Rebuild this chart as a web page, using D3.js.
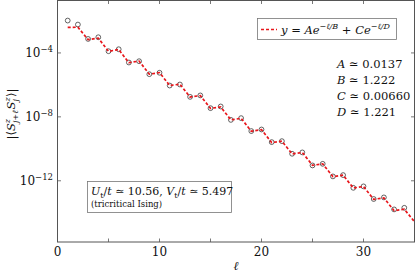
<!DOCTYPE html>
<html>
<head>
<meta charset="utf-8">
<script src="https://cdn.jsdelivr.net/npm/d3@7"></script>
<style>
  body { margin: 0; background: #fff; }
  svg text { fill: #111; }
  .frame { fill: none; stroke: #555; stroke-width: 1; }
  .tick { stroke: #555; stroke-width: 0.8; }
</style>
</head>
<body>
<div id="chart"></div>
<script>
// ------------------------------------------------ DATA ------------------------------------------------
// distance l and measured correlation |<S_j+l S_j>|
var DIST = [1,2,3,4,5,6,7,8,9,10,11,12,13,14,15,16,17,18,19,20,21,22,23,24,25,26,27,28,29,30,31,32,33,34];
var CORR = [1.06e-2,5.96e-3,7.50e-4,9.57e-4,1.28e-4,1.70e-4,2.51e-5,3.03e-5,4.67e-6,5.75e-6,
            9.12e-7,1.06e-6,1.78e-7,2.19e-7,3.50e-8,4.47e-8,6.46e-9,8.32e-9,1.29e-9,1.62e-9,
            2.63e-10,3.02e-10,4.90e-11,5.96e-11,9.12e-12,1.15e-11,1.88e-12,2.27e-12,3.63e-13,4.47e-13,
            7.24e-14,9.12e-14,1.62e-14,2.04e-14];
// fitted curve, evaluated at integer l
var FIT_DIST = [1,2,3,4,5,6,7,8,9,10,11,12,13,14,15,16,17,18,19,20,21,22,23,24,25,26,27,28,29,30,31,32,33,34,35];
var FIT_VAL = [3.98e-3,4.07e-3,6.76e-4,8.51e-4,1.26e-4,1.62e-4,2.45e-5,3.09e-5,4.68e-6,5.89e-6,
               9.12e-7,1.10e-6,1.74e-7,2.14e-7,3.39e-8,4.17e-8,6.46e-9,8.13e-9,1.26e-9,1.58e-9,
               2.45e-10,3.02e-10,4.79e-11,5.89e-11,9.33e-12,1.15e-11,1.82e-12,2.24e-12,3.55e-13,4.37e-13,
               6.92e-14,8.51e-14,1.35e-14,1.66e-14,2.75e-15];

var X_TICKS = [0,5,10,15,20,25,30,35];
var X_LABELS = [0,10,20,30];
var Y_TICKS = [-4,-8,-12];

var FIT_PARAMS = [["A","0.0137"],["B","1.222"],["C","0.00660"],["D","1.221"]];

// ------------------------------------------------ LAYOUT ------------------------------------------------
var W = 415, H = 273;
var PLOT_LEFT = 57.5, PLOT_RIGHT = 414.5, PLOT_TOP = 0.5, PLOT_BOTTOM = 242;
var TICK_LEN = 3.5;
var FONT = "'DejaVu Serif', serif";

var svg = d3.select("#chart").append("svg")
  .attr("width",W).attr("height",H)
  .attr("font-family",FONT).style("font-family",FONT);

var x = d3.scaleLinear().domain([0,35]).range([PLOT_LEFT,PLOT_RIGHT]);
var y = d3.scaleLog().domain([Math.pow(10,-15.83),Math.pow(10,-0.72)]).range([PLOT_BOTTOM,PLOT_TOP]);

svg.append("clipPath").attr("id","plotclip")
  .append("rect").attr("x",PLOT_LEFT).attr("y",PLOT_TOP)
  .attr("width",PLOT_RIGHT-PLOT_LEFT).attr("height",PLOT_BOTTOM-PLOT_TOP);

drawAxes();
drawData();
drawLegend();
drawAnnotations();

// ------------------------------------------------ AXES ------------------------------------------------
function drawAxes(){
  var g = svg.append("g").attr("id","axes");

  // x ticks, bottom + top, pointing inward
  X_TICKS.forEach(function(t){
    _drawLine(g,x(t),PLOT_BOTTOM,x(t),PLOT_BOTTOM-TICK_LEN);
    _drawLine(g,x(t),PLOT_TOP,x(t),PLOT_TOP+TICK_LEN);
  });
  X_LABELS.forEach(function(t){
    _text(g,t,x(t),256,"12px").style("text-anchor","middle");
  });

  // y ticks, left + right
  Y_TICKS.forEach(function(e){
    var _y = y(Math.pow(10,e));
    _drawLine(g,PLOT_LEFT,_y,PLOT_LEFT+TICK_LEN,_y);
    _drawLine(g,PLOT_RIGHT,_y,PLOT_RIGHT-TICK_LEN,_y);
    var t = _text(g,"",53,_y+4.5,"12px").style("text-anchor","end");
    t.append("tspan").text("10");
    t.append("tspan").text("\u2212"+(-e)).attr("dy",-5.5).style("font-size","8.5px");
  });

  g.append("rect").attr("class","frame")
    .attr("x",PLOT_LEFT).attr("y",PLOT_TOP)
    .attr("width",PLOT_RIGHT-PLOT_LEFT).attr("height",PLOT_BOTTOM-PLOT_TOP);

  // axis labels
  _text(g,"\u2113",236,270,"12px").style("text-anchor","middle").style("font-style","italic");

  var yl = _text(g,"",0,0,"11.5px").attr("x",null).attr("y",null)
    .attr("transform","translate(15,114) rotate(-90)")
    .style("text-anchor","middle");
  yl.append("tspan").text("|\u27E8");
  yl.append("tspan").text("S").style("font-style","italic");
  yl.append("tspan").text("z").attr("dy",-5).style("font-size","8px").style("font-style","italic");
  yl.append("tspan").text("j+\u2113").attr("dx",-4).attr("dy",8).style("font-size","8px").style("font-style","italic");
  yl.append("tspan").text("S").attr("dx",1).attr("dy",-3).style("font-style","italic");
  yl.append("tspan").text("z").attr("dy",-5).style("font-size","8px").style("font-style","italic");
  yl.append("tspan").text("j").attr("dx",-4).attr("dy",8).style("font-size","8px").style("font-style","italic");
  yl.append("tspan").text("\u27E9|").attr("dx",2).attr("dy",-3);
}

// ------------------------------------------------ DATA MARKS ------------------------------------------------
function drawData(){
  var g = svg.append("g").attr("id","data").attr("clip-path","url(#plotclip)");

  g.selectAll("circle").data(DIST).enter().append("circle")
    .attr("cx",function(d){ return x(d); })
    .attr("cy",function(d,i){ return y(CORR[i]); })
    .attr("r",2.4)
    .style("fill","none").style("stroke","#222").style("stroke-width",0.7);

  var line = d3.line()
    .x(function(d){ return x(d); })
    .y(function(d,i){ return y(FIT_VAL[i]); });

  g.append("path").datum(FIT_DIST)
    .attr("d",line)
    .style("fill","none").style("stroke","#e8161b").style("stroke-width",1.7)
    .style("stroke-dasharray","3,2");
}

// ------------------------------------------------ LEGEND ------------------------------------------------
function drawLegend(){
  var g = svg.append("g").attr("id","legend");
  g.append("rect").attr("x",257.5).attr("y",18.5).attr("width",139).attr("height",21)
    .style("fill","#fff").style("stroke","#777").style("stroke-width",0.8);
  g.append("line").attr("x1",261).attr("y1",29.5).attr("x2",277).attr("y2",29.5)
    .style("stroke","#e8161b").style("stroke-width",1.7).style("stroke-dasharray","3,2");

  var t = _text(g,"",281,33.5,"11.5px");
  t.append("tspan").text("y").style("font-style","italic");
  t.append("tspan").text(" = ");
  t.append("tspan").text("Ae").style("font-style","italic");
  t.append("tspan").text("\u2212\u2113/B").attr("dy",-5).style("font-size","8px").style("font-style","italic");
  t.append("tspan").text(" + ").attr("dy",5);
  t.append("tspan").text("Ce").style("font-style","italic");
  t.append("tspan").text("\u2212\u2113/D").attr("dy",-5).style("font-size","8px").style("font-style","italic");
}

// ------------------------------------------------ TEXT BOXES ------------------------------------------------
function drawAnnotations(){
  var g = svg.append("g").attr("id","annotations");

  FIT_PARAMS.forEach(function(p,i){
    var t = _text(g,"",337,68+i*16,"11.5px");
    t.append("tspan").text(p[0]).style("font-style","italic");
    t.append("tspan").text(" \u2243 "+p[1]);
  });

  g.append("rect").attr("x",87.5).attr("y",181.5).attr("width",144).attr("height",31)
    .style("fill","#fff").style("stroke","#777").style("stroke-width",0.8);

  var t1 = _text(g,"",91,195,"11px");
  t1.append("tspan").text("U").style("font-style","italic");
  t1.append("tspan").text("t").attr("dy",3).style("font-size","8px");
  t1.append("tspan").text("/").attr("dy",-3);
  t1.append("tspan").text("t").style("font-style","italic");
  t1.append("tspan").text(" \u2243 10.56, ");
  t1.append("tspan").text("V").style("font-style","italic");
  t1.append("tspan").text("t").attr("dy",3).style("font-size","8px");
  t1.append("tspan").text("/").attr("dy",-3);
  t1.append("tspan").text("t").style("font-style","italic");
  t1.append("tspan").text(" \u2243 5.497");

  _text(g,"(tricritical Ising)",91,206.5,"8.5px");
}

/* ---------------- helpers ---------------- */
function _drawLine(g,x1,y1,x2,y2){
  g.append("line").attr("class","tick")
    .attr("x1",x1).attr("y1",y1).attr("x2",x2).attr("y2",y2);
}

function _text(g,txt,x,y,size){
  return g.append("text").text(txt)
    .attr("x",x).attr("y",y)
    .style("font-family",FONT)
    .style("font-size",size);
}
</script>
</body>
</html>
